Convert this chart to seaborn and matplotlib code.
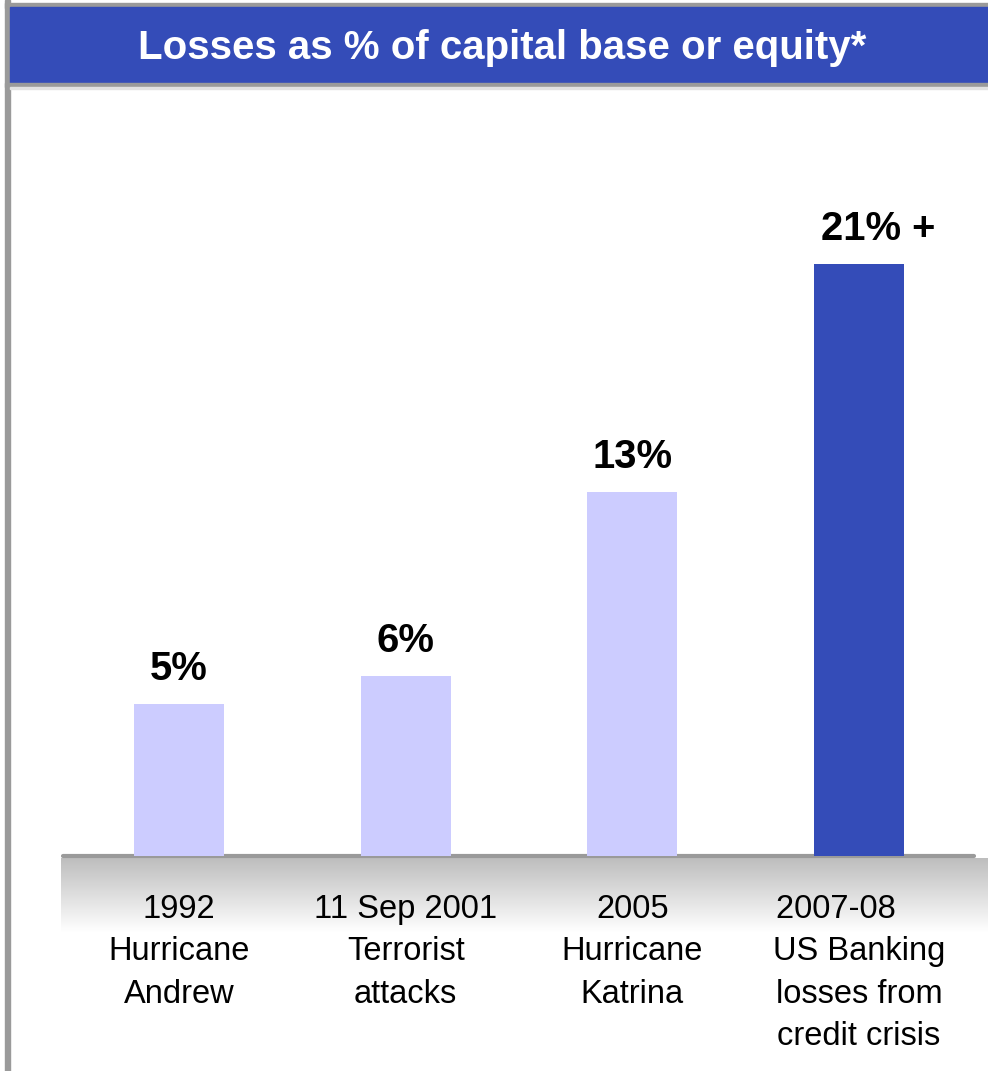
import matplotlib
matplotlib.use("Agg")
import matplotlib.pyplot as plt
import numpy as np
import pandas as pd
import seaborn as sns
from matplotlib.patches import Rectangle

# ---- data ----
categories = ["1992\nHurricane\nAndrew",
              "11 Sep 2001\nTerrorist\nattacks",
              "2005\nHurricane\nKatrina",
              "2007-08     \nUS Banking\nlosses from\ncredit crisis"]
values = [5.4, 6.4, 12.9, 21.0]
value_labels = ["5%", "6%", "13%", "21% +"]
title_text = "Losses as % of capital base or equity*"

BLUE = "#344CB8"
LIGHT = "#CCCCFF"
GRAY = "#9A9A9A"
bar_colors = [LIGHT, LIGHT, LIGHT, BLUE]

sns.set_theme(style="white")
plt.rcParams["font.family"] = ["Liberation Sans", "DejaVu Sans"]

W, H = 988, 1071
fig = plt.figure(figsize=(W / 100, H / 100), dpi=100)
fig.patch.set_facecolor("white")

def fx(px):
    return px / W

def fy(py):
    return 1 - py / H

# gradient strip under baseline
gax = fig.add_axes([fx(61), fy(932), fx(988 - 61), (932 - 858) / H], zorder=0)
grad = np.linspace(0.74, 1.0, 256).reshape(-1, 1)
gax.imshow(np.dstack([grad, grad, grad]), aspect="auto", extent=[0, 1, 0, 1],
           origin="upper", interpolation="bilinear")
gax.set_axis_off()

# main axes
left_px, right_px, base_px, top_px = 63, 974, 856, 100
ax = fig.add_axes([fx(left_px), fy(base_px), fx(right_px - left_px),
                   (base_px - top_px) / H], zorder=2)
ax.patch.set_alpha(0)

df = pd.DataFrame({"cat": categories, "val": values})
sns.barplot(data=df, x="cat", y="val", hue="cat", palette=bar_colors,
            width=0.397, saturation=1, legend=False, ax=ax, zorder=3,
            linewidth=0, edgecolor="none")

spacing = (859 - 179) / 3
ax.set_xlim(-(179 - left_px) / spacing, (right_px - 179) / spacing)
scale = 592 / 21.0
ax.set_ylim(0, (base_px - top_px) / scale)

for s in ["top", "right", "left"]:
    ax.spines[s].set_visible(False)
ax.spines["bottom"].set_color(GRAY)
ax.spines["bottom"].set_linewidth(3.0)
ax.spines["bottom"].set_capstyle("round")
ax.set_yticks([])
ax.set_xlabel("")
ax.set_ylabel("")
ax.tick_params(axis="x", length=0, pad=27.5, labelsize=23.5, colors="black")
for t in ax.get_xticklabels():
    t.set_linespacing(1.47)
    t.set_multialignment("center")

for i, (v, lab) in enumerate(zip(values, value_labels)):
    dx = 19 if lab.endswith("+") else 0
    ax.annotate(lab, xy=(i, v), xytext=(dx, 24), textcoords="offset pixels",
                ha="center", va="baseline", fontsize=28.8, fontweight="bold",
                color="black")

# frame + title bar
fig.add_artist(Rectangle((fx(5), fy(1071)), fx(4.5), 1, transform=fig.transFigure,
                         color=GRAY, zorder=5))
fig.add_artist(Rectangle((fx(5), fy(7.5)), 1, 4.5 / H, transform=fig.transFigure,
                         color=GRAY, zorder=5))
fig.add_artist(Rectangle((fx(9.5), fy(82.7)), 1, (82.7 - 7.5) / H,
                         transform=fig.transFigure, color=BLUE, zorder=5))
fig.add_artist(Rectangle((fx(5), fy(87)), 1, 4.3 / H, transform=fig.transFigure,
                         color=GRAY, zorder=5))
fig.add_artist(Rectangle((fx(9.5), fy(88.5)), 1, 1.5 / H, transform=fig.transFigure,
                         color="#E2E2E2", zorder=5))
fig.text(fx(502), fy(59), title_text, ha="center", va="baseline",
         fontsize=29.0, fontweight="bold", color="white", zorder=6)

fig.savefig("out.png", dpi=100, facecolor="white")
